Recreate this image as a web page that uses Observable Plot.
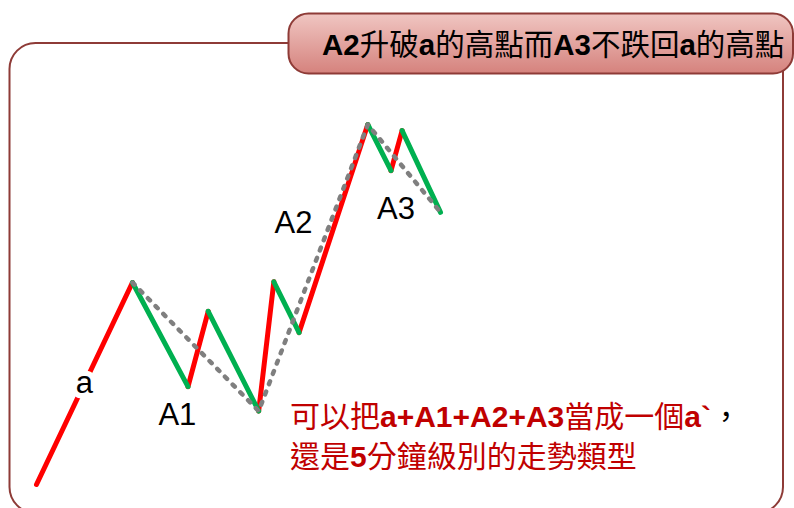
<!DOCTYPE html>
<html><head><meta charset="utf-8">
<script src="https://cdn.jsdelivr.net/npm/d3@7"></script>
<script src="https://cdn.jsdelivr.net/npm/@observablehq/plot@0.6"></script>
<style>
html,body{margin:0;padding:0;background:#fff;overflow:hidden;}
#wrap{position:relative;width:794px;height:508px;overflow:hidden;}
#wrap svg{position:absolute;left:0;top:0;}
</style>
</head><body>
<div id="wrap"></div>
<script>
// Zigzag pivots: time (x) and price (y)
const times  = [0, 9.5, 15, 17, 22, 23.5, 26, 32.8, 35.1, 36.2, 40];
const prices = [0, 56.1, 27.2, 48.1, 20.4, 56.3, 42.2, 100, 87.2, 98.3, 75.6];
// Pivots joined by the grey dashed line (a-high, A1-low, A2-high, A3-end)
const dashedIdx = [1, 4, 7, 10];
// Wave labels
const labelText = ["a", "A1", "A2", "A3"];
const labelX = [4.75, 13.95, 25.45, 35.6];
const labelY = [28.3, 19.2, 72.5, 76.4];
// Texts
const titleParts = [["A2",1],["升破",0],["a",1],["的高點而",0],["A3",1],["不跌回",0],["a",1],["的高點",0]];
const note1Parts = [["可以把",0],["a+A1+A2+A3",1],["當成一個",0],["a`",1],["，",2]];
const note2Parts = [["還是",0],["5",1],["分鐘級別的走勢類型",0]];

const pts = times.map((t, i) => ({x: t, y: prices[i]}));
const segs = pts.slice(1).map((p, i) => ({x1: pts[i].x, y1: pts[i].y, x2: p.x, y2: p.y, up: p.y > pts[i].y}));
const dashed = dashedIdx.map(i => pts[i]);
const labels = labelText.map((t, i) => ({text: t, x: labelX[i], y: labelY[i]}));

const wrap = d3.select("#wrap");

// Decoration layer (frame, title tab, texts)
const deco = wrap.append("svg").attr("width", 794).attr("height", 508);
const defs = deco.append("defs");
const grad = defs.append("linearGradient").attr("id", "tabg").attr("x1", 0).attr("y1", 0).attr("x2", 0).attr("y2", 1);
grad.append("stop").attr("offset", "0%").attr("stop-color", "#f0c6c2");
grad.append("stop").attr("offset", "100%").attr("stop-color", "#d5827d");

deco.append("rect").attr("x", 9.5).attr("y", 43).attr("width", 773.5).attr("height", 470).attr("rx", 26)
  .attr("fill", "none").attr("stroke", "#8e3b37").attr("stroke-width", 2);
deco.append("rect").attr("x", 288.5).attr("y", 13.5).attr("width", 504.5).attr("height", 60).attr("rx", 20)
  .attr("fill", "url(#tabg)").attr("stroke", "#8e3b37").attr("stroke-width", 2);

function rich(parts, x, y, size, color) {
  const t = deco.append("text").attr("x", x).attr("y", y)
    .attr("font-size", size).attr("font-family", "'Liberation Sans','Noto Sans CJK TC',sans-serif");
  parts.forEach(([s, b]) => {
    t.append("tspan").text(s)
      .attr("font-weight", b === 1 ? "bold" : "normal")
      .attr("font-family", b === 1 ? "'Liberation Sans',sans-serif" : "'Noto Sans CJK TC','Liberation Sans',sans-serif")
      .attr("fill", b === 2 ? "#000" : color);
  });
}
rich(titleParts, 322, 55, 29.5, "#000");
rich(note1Parts, 290, 427, 30, "#c00000");
rich(note2Parts, 290, 467, 30, "#c00000");

// Chart layer
const chart = Plot.plot({
  width: 794, height: 508,
  marginLeft: 36, marginRight: 354, marginTop: 124, marginBottom: 24,
  x: {domain: [0, 40], axis: null},
  y: {domain: [0, 100], axis: null},
  style: {background: "transparent", overflow: "visible"},
  marks: [
    Plot.link(segs.filter(d => d.up), {x1: "x1", y1: "y1", x2: "x2", y2: "y2", stroke: "#ff0000", strokeWidth: 5, strokeLinecap: "round"}),
    Plot.link(segs.filter(d => !d.up), {x1: "x1", y1: "y1", x2: "x2", y2: "y2", stroke: "#00b050", strokeWidth: 5, strokeLinecap: "round"}),
    Plot.line(dashed, {x: "x", y: "y", stroke: "#7f7f7f", strokeWidth: 4.5, strokeDasharray: "3,8", strokeLinecap: "round"}),
    Plot.text(labels.slice(0, 1), {x: "x", y: "y", text: "text", fontSize: 31, fontFamily: "'Liberation Sans',sans-serif", fill: "#000", stroke: "#fff", strokeWidth: 11, lineAnchor: "middle"}),
    Plot.text(labels.slice(1), {x: "x", y: "y", text: "text", fontSize: 31, fontFamily: "'Liberation Sans',sans-serif", fill: "#000", lineAnchor: "middle"})
  ]
});
wrap.node().appendChild(chart);
</script>
</body></html>
